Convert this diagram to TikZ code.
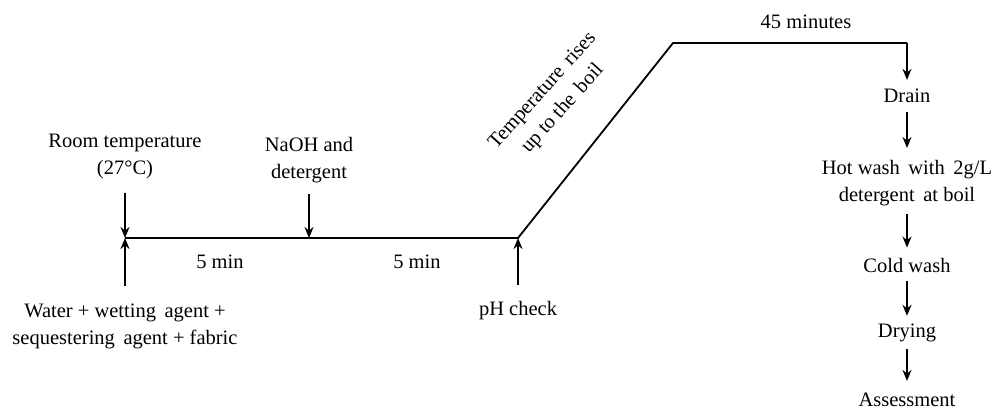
\documentclass[tikz,border=0pt]{standalone}
\usepackage{fontspec}
\setmainfont{Liberation Serif}
\usetikzlibrary{arrows.meta}
\begin{document}
\begin{tikzpicture}[x=1pt,y=-1pt,
  lbl/.style={inner sep=0pt,align=center,font=\fontsize{20.5}{27}\selectfont},
  line/.style={line width=1.8pt},
  arr/.style={line width=1.8pt,-{Stealth[length=11pt,width=9pt]}}]
\useasboundingbox (0,0) rectangle (993,412);
% timeline
\coordinate (t0) at (125,238);
\coordinate (t1) at (309,238);
\coordinate (t2) at (518,238);
\coordinate (t3) at (673,43);
\coordinate (t4) at (907,43);
% labels
\node[lbl] (room) at (125,156) {Room temperature\\(27°C)};
\node[lbl] (water) at (125,326) {Water + wetting\, agent +\\sequestering\, agent + fabric};
\node[lbl] (naoh) at (309,160) {NaOH and\\detergent};
\node[lbl] (m1) at (220,262) {5 min};
\node[lbl] (m2) at (417,262) {5 min};
\node[lbl] (ph) at (518,311) {pH check};
\node[lbl,rotate=48] (rise) at (553,100) {Temperature\, rises\\up to the\, boil};
\node[lbl] (m45) at (806,22) {45 minutes};
\node[lbl] (drain) at (907,96) {Drain};
\node[lbl] (hot) at (907,183) {Hot wash\, with\, 2g/L\\detergent\, at boil};
\node[lbl] (cold) at (907,265) {Cold wash};
\node[lbl] (dry) at (907,333) {Drying};
\node[lbl] (ass) at (907,400) {Assessment};
% main profile
\draw[line] (t0) -- (t2) -- (t3) -- (t4);
\draw[arr] (t4) -- ([yshift=9pt]drain.north);
% input arrows
\draw[arr] ([yshift=-14pt]room.south) -- (t0);
\draw[arr] ([yshift=17pt]water.north) -- (t0);
\draw[arr] ([yshift=-11pt]naoh.south) -- (t1);
\draw[arr] ([yshift=17pt]ph.north) -- (t2);
% right column
\draw[arr] ([yshift=-9pt]drain.south) -- ([yshift=12pt]hot.north);
\draw[arr] ([yshift=-8pt]hot.south) -- ([yshift=10pt]cold.north);
\draw[arr] ([yshift=-9pt]cold.south) -- ([yshift=8pt]dry.north);
\draw[arr] ([yshift=-7pt]dry.south) -- ([yshift=12pt]ass.north);
\end{tikzpicture}
\end{document}
